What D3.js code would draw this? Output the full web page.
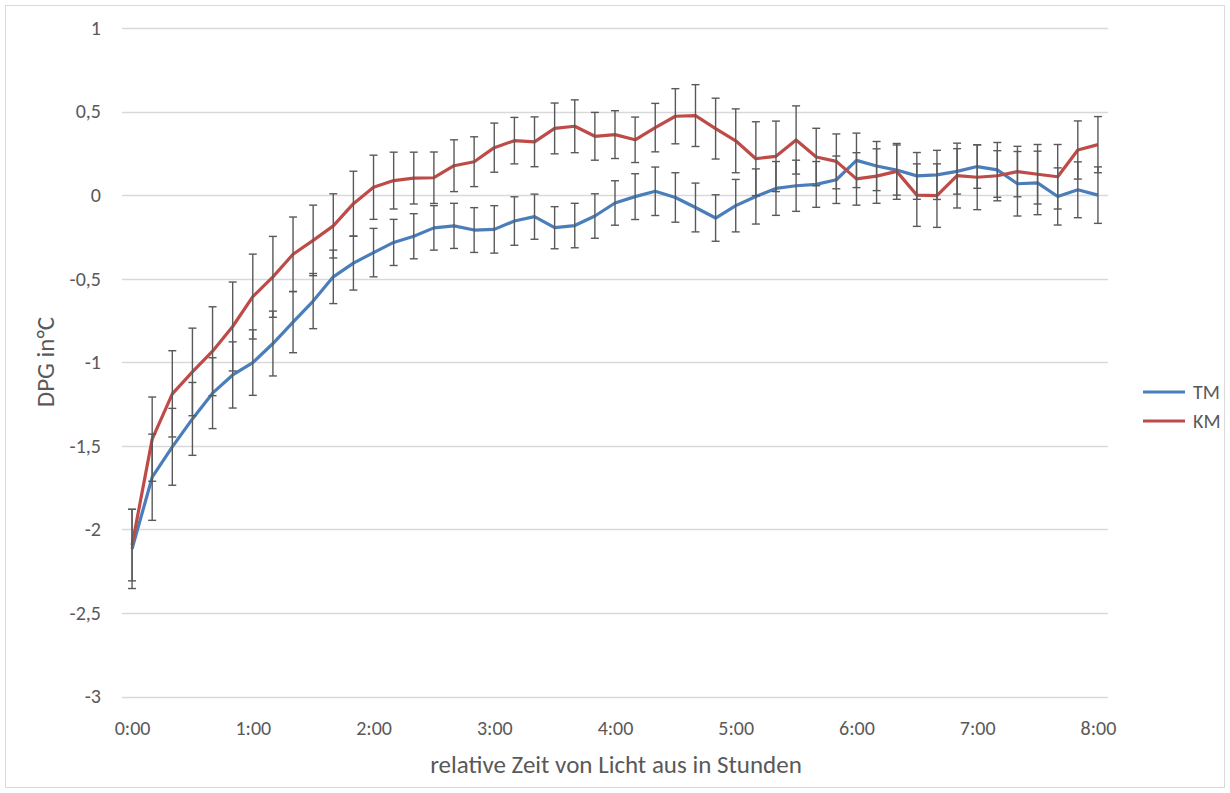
<!DOCTYPE html>
<html lang="de">
<head>
    <meta charset="UTF-8">
    <script src="https://d3js.org/d3.v7.min.js"></script>
    <title>DPG</title>
    <style>
        body { margin: 0; background: #fff; }
        text { font-family: Carlito, Calibri, Lato, sans-serif; fill: #595959; }
        .tick text { font-size: 20px; }
        text.title { font-size: 25px; }
        text.legend { font-size: 20px; }
    </style>
</head>
<body>
<svg height="793" width="1230"></svg>
<script>
    const width = 1230, height = 793;

    // 10-minute steps after lights off
    const categories = [
        "0:00","0:10","0:20","0:30","0:40","0:50",
        "1:00","1:10","1:20","1:30","1:40","1:50",
        "2:00","2:10","2:20","2:30","2:40","2:50",
        "3:00","3:10","3:20","3:30","3:40","3:50",
        "4:00","4:10","4:20","4:30","4:40","4:50",
        "5:00","5:10","5:20","5:30","5:40","5:50",
        "6:00","6:10","6:20","6:30","6:40","6:50",
        "7:00","7:10","7:20","7:30","7:40","7:50",
        "8:00"];
    const xTickLabels = ["0:00","1:00","2:00","3:00","4:00","5:00","6:00","7:00","8:00"];
    const yTicks = [1, 0.5, 0, -0.5, -1, -1.5, -2, -2.5, -3];

    const tmMean = [-2.117,-1.688,-1.506,-1.339,-1.185,-1.076,-1.002,-0.888,-0.760,-0.634,
        -0.489,-0.407,-0.344,-0.283,-0.246,-0.196,-0.184,-0.209,-0.205,-0.155,
        -0.129,-0.195,-0.182,-0.125,-0.047,-0.009,0.023,-0.014,-0.074,-0.137,
        -0.063,-0.008,0.040,0.056,0.064,0.092,0.208,0.174,0.150,0.115,
        0.121,0.142,0.171,0.151,0.068,0.073,-0.008,0.032,0.000];
    const tmErr = [0.237,0.258,0.230,0.218,0.212,0.198,0.196,0.194,0.183,0.165,
        0.160,0.161,0.145,0.138,0.135,0.133,0.135,0.134,0.142,0.145,
        0.135,0.126,0.133,0.133,0.133,0.137,0.145,0.148,0.146,0.139,
        0.157,0.165,0.161,0.153,0.137,0.142,0.163,0.147,0.150,0.140,
        0.147,0.136,0.130,0.164,0.193,0.190,0.171,0.167,0.169];
    const kmMean = [-2.094,-1.460,-1.189,-1.058,-0.934,-0.786,-0.607,-0.489,-0.354,-0.271,
        -0.184,-0.051,0.047,0.087,0.102,0.104,0.176,0.200,0.284,0.326,
        0.319,0.399,0.412,0.352,0.362,0.331,0.404,0.472,0.476,0.398,
        0.325,0.218,0.232,0.330,0.228,0.202,0.097,0.114,0.142,0.000,
        -0.003,0.117,0.107,0.116,0.141,0.125,0.110,0.270,0.302];
    const kmErr = [0.214,0.252,0.258,0.262,0.266,0.266,0.254,0.242,0.223,0.211,
        0.192,0.194,0.192,0.170,0.155,0.154,0.155,0.149,0.147,0.139,
        0.149,0.152,0.158,0.143,0.143,0.136,0.145,0.165,0.185,0.182,
        0.191,0.221,0.211,0.204,0.172,0.164,0.157,0.163,0.167,0.187,
        0.190,0.194,0.194,0.150,0.151,0.178,0.193,0.174,0.168];

    const series = [
        {name: "TM", mean: tmMean, err: tmErr, color: "#4a7ebb"},
        {name: "KM", mean: kmMean, err: kmErr, color: "#be4b48"}
    ];

    const svg = d3.select("svg");

    // chart frame
    svg.append("rect").attr("x", 5.5).attr("y", 5.5)
        .attr("width", 1219).attr("height", 782)
        .attr("fill", "none").attr("stroke", "#d9d9d9");

    const x = d3.scaleBand().domain(categories).range([122, 1108]);
    const cx = c => x(c) + x.bandwidth() / 2;
    const y = d3.scaleLinear().domain([-3, 1]).range([696.5, 28]);

    // gridlines
    svg.append("g").selectAll("line").data(yTicks).enter().append("line")
        .attr("x1", 122).attr("x2", 1108)
        .attr("y1", d => Math.round(y(d)) + 0.5).attr("y2", d => Math.round(y(d)) + 0.5)
        .attr("stroke", "#d9d9d9").attr("stroke-width", 1.3);

    // y axis labels
    const yAxis = d3.axisLeft(y).tickValues(yTicks).tickSize(0).tickPadding(21)
        .tickFormat(d => String(d).replace(".", ","));
    svg.append("g").attr("transform", "translate(122,0)").call(yAxis)
        .call(g => g.select(".domain").remove());

    // x axis labels
    const xAxis = d3.axisBottom(d3.scalePoint().domain(categories).range([cx(categories[0]), cx(categories[48])]))
        .tickValues(xTickLabels).tickSize(0).tickPadding(24);
    svg.append("g").attr("transform", "translate(0,696.5)").call(xAxis)
        .call(g => g.select(".domain").remove());

    svg.selectAll(".tick text").attr("fill", "#595959").style("font-family", null);

    svg.append("text").attr("class", "title")
        .attr("x", 616).attr("y", 773).attr("text-anchor", "middle")
        .text("relative Zeit von Licht aus in Stunden");
    svg.append("text").attr("class", "title")
        .attr("transform", "translate(54,362) rotate(-90)").attr("text-anchor", "middle")
        .text("DPG in°C");

    const line = d3.line().x((d, i) => cx(categories[i])).y(d => y(d));

    series.forEach(s => {
        svg.append("path").datum(s.mean)
            .attr("fill", "none").attr("stroke", s.color)
            .attr("stroke-width", 3.2).attr("stroke-linejoin", "round")
            .attr("d", line);
    });

    // error bars
    series.forEach(s => {
        const g = svg.append("g").attr("stroke", "#595959").attr("stroke-width", 1.4);
        const pts = s.mean.map((m, i) => ({c: categories[i], lo: m - s.err[i], hi: m + s.err[i]}));
        g.selectAll("line.v").data(pts).enter().append("line")
            .attr("x1", d => cx(d.c)).attr("x2", d => cx(d.c))
            .attr("y1", d => y(d.lo)).attr("y2", d => y(d.hi));
        g.selectAll("line.lo").data(pts).enter().append("line")
            .attr("x1", d => cx(d.c) - 4).attr("x2", d => cx(d.c) + 4)
            .attr("y1", d => y(d.lo)).attr("y2", d => y(d.lo));
        g.selectAll("line.hi").data(pts).enter().append("line")
            .attr("x1", d => cx(d.c) - 4).attr("x2", d => cx(d.c) + 4)
            .attr("y1", d => y(d.hi)).attr("y2", d => y(d.hi));
    });

    // legend
    const legend = svg.append("g").selectAll("g").data(series).enter().append("g")
        .attr("transform", (d, i) => `translate(1143,${392 + i * 29})`);
    legend.append("line").attr("x1", 0).attr("x2", 42)
        .attr("stroke", d => d.color).attr("stroke-width", 3.2);
    legend.append("text").attr("class", "legend")
        .attr("x", 50).attr("dy", "0.35em").text(d => d.name);
</script>
</body>
</html>
